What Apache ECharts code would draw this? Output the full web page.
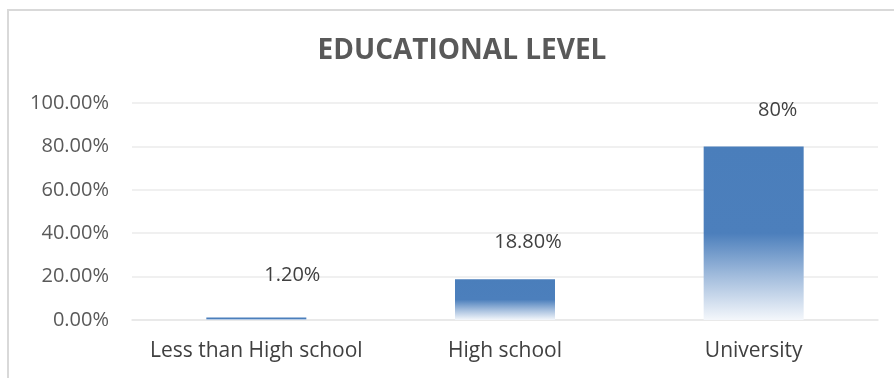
<!DOCTYPE html>
<html>
<head>
<meta charset="utf-8">
<script src="https://cdn.jsdelivr.net/npm/echarts@6/dist/echarts.min.js"></script>
<style>
html, body { margin: 0; padding: 0; background: #fff; }
#chart { width: 894px; height: 378px; }
</style>
</head>
<body>
<div id="chart"></div>
<script>
var categories = ['Less than High school', 'High school', 'University'];
var shares = [1.2, 18.8, 80];
var shareLabels = ['1.20%', '18.80%', '80%'];

// label nudges, as placed in the original sheet
var labelOffsets = [[36, -27], [23, -22], [24, -21]];

var barColor = new echarts.graphic.LinearGradient(0, 0, 0, 1, [
	{ offset : 0, color : '#4a7ebb' },
	{ offset : 0.5, color : '#4c7fbc' },
	{ offset : 0.75, color : '#a3bddd' },
	{ offset : 1, color : '#f4f7fb' }
]);

var barData = shares.map(function(v, i) {
	return {
		value : v,
		label : {
			offset : labelOffsets[i],
			formatter : shareLabels[i]
		}
	};
});

var chart = echarts.init(document.getElementById('chart'));

var option = {
	animation : false,
	title : {
		text : 'EDUCATIONAL LEVEL',
		left : 457,
		top : 32,
		textAlign : 'center',
		textStyle : {
			color : '#595959',
			fontSize : 28,
			fontWeight : 'bold',
			fontFamily : 'Open Sans'
		}
	},
	graphic : [ {
		type : 'rect',
		shape : { x : 8, y : 10, width : 1000, height : 1000 },
		style : { fill : 'none', stroke : '#d9d9d9', lineWidth : 2 },
		silent : true
	} ],
	grid : {
		left : 132,
		right : 16,
		top : 103,
		bottom : 58
	},
	xAxis : {
		type : 'category',
		data : categories,
		axisLine : { lineStyle : { color : '#e6e6e6', width : 1.5 } },
		axisTick : { show : false },
		axisLabel : {
			interval : 0,
			color : '#404040',
			fontSize : 21,
			margin : 21,
			fontFamily : 'Open Sans'
		}
	},
	yAxis : {
		type : 'value',
		min : 0,
		max : 100,
		interval : 20,
		axisLine : { show : false },
		axisTick : { show : false },
		splitLine : { lineStyle : { color : '#ebebeb', width : 1.5 } },
		axisLabel : {
			color : '#595959',
			fontSize : 20,
			margin : 23,
			fontFamily : 'Open Sans',
			formatter : function(v) {
				return v.toFixed(2) + '%';
			}
		}
	},
	series : [ {
		type : 'bar',
		barWidth : 100,
		data : barData,
		itemStyle : { color : barColor },
		label : {
			show : true,
			position : 'top',
			color : '#404040',
			fontSize : 20,
			fontFamily : 'Open Sans'
		}
	} ]
};

chart.setOption(option);
</script>
</body>
</html>
